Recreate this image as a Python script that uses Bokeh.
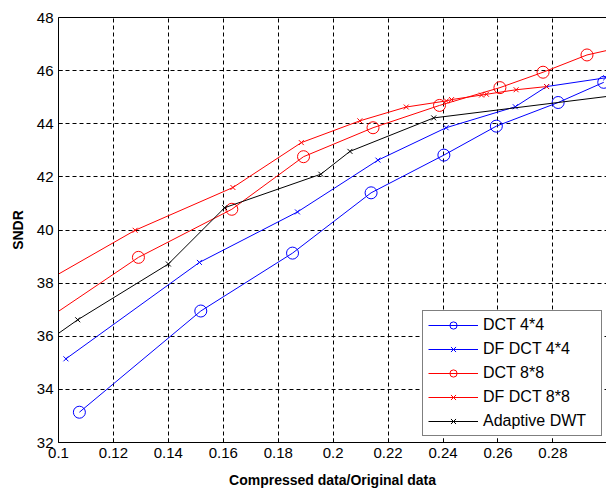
from bokeh.plotting import figure
from bokeh.models import Range1d, FixedTicker, PrintfTickFormatter, LinearAxis, Legend, LegendItem
from bokeh.embed import file_html
from bokeh.resources import INLINE

# ---- data ----
dct44_x = [0.1076, 0.1518, 0.1852, 0.2138, 0.2403, 0.2594, 0.2819, 0.2985]
dct44_y = [33.14, 36.95, 39.13, 41.40, 42.82, 43.91, 44.80, 45.56]

dfdct44_x = [0.1027, 0.1513, 0.1870, 0.2163, 0.2411, 0.2663, 0.2777, 0.2992]
dfdct44_y = [35.15, 38.78, 40.68, 42.63, 43.85, 44.64, 45.40, 45.73]

dct88_x = [0.09, 0.1291, 0.1631, 0.1892, 0.2145, 0.2387, 0.2607, 0.2764, 0.2924, 0.31]
dct88_y = [36.24, 38.97, 40.78, 42.76, 43.85, 44.69, 45.36, 45.94, 46.59, 47.00]

dfdct88_x = [0.09, 0.1279, 0.1635, 0.1884, 0.2097, 0.2266, 0.2412, 0.2431, 0.2540, 0.2558, 0.2666, 0.2777]
dfdct88_y = [37.75, 39.99, 41.60, 43.29, 44.11, 44.63, 44.86, 44.91, 45.08, 45.11, 45.28, 45.40]

dwt_x = [0.09, 0.1070, 0.1400, 0.1605, 0.1955, 0.2061, 0.2366, 0.31]
dwt_y = [35.38, 36.62, 38.72, 40.84, 42.10, 42.96, 44.22, 45.16]

x_ticks = [0.1, 0.12, 0.14, 0.16, 0.18, 0.2, 0.22, 0.24, 0.26, 0.28]
y_ticks = [32, 34, 36, 38, 40, 42, 44, 46, 48]

series = [
    ("DCT 4*4", dct44_x, dct44_y, "#0000FF", "circle"),
    ("DF DCT 4*4", dfdct44_x, dfdct44_y, "#0000FF", "x"),
    ("DCT 8*8", dct88_x, dct88_y, "#FF0000", "circle"),
    ("DF DCT 8*8", dfdct88_x, dfdct88_y, "#FF0000", "x"),
    ("Adaptive DWT", dwt_x, dwt_y, "#000000", "x"),
]

p = figure(width=606, height=494, output_backend="svg", toolbar_location=None,
           x_range=Range1d(0.1, 0.2995), y_range=Range1d(32, 48),
           min_border_left=58, min_border_right=0, min_border_top=17, min_border_bottom=52)
p.outline_line_color = None
p.background_fill_color = "white"
p.border_fill_color = "white"

for ax, ticks in ((p.xaxis[0], x_ticks), (p.yaxis[0], y_ticks)):
    ax.ticker = FixedTicker(ticks=ticks)
    ax.major_tick_in = 4
    ax.major_tick_out = 0
    ax.minor_tick_in = 0
    ax.minor_tick_out = 0
    ax.axis_line_color = "black"
    ax.major_tick_line_color = "black"
    ax.major_label_text_font = "Liberation Sans"
    ax.major_label_text_font_size = "15px"
    ax.major_label_text_color = "black"
    ax.major_label_standoff = 5
    ax.axis_label_text_font = "Liberation Sans"
    ax.axis_label_text_font_style = "bold"
    ax.axis_label_text_font_size = "14px"
    ax.axis_label_text_color = "black"

p.xaxis[0].formatter = PrintfTickFormatter(format="%g")
p.xaxis[0].axis_label = "Compressed data/Original data"
p.xaxis[0].axis_label_standoff = 11
p.yaxis[0].axis_label = "SNDR"
p.yaxis[0].axis_label_standoff = 8

top_axis = LinearAxis(ticker=FixedTicker(ticks=[]), axis_line_color="black",
                      major_label_text_font_size="0px", major_tick_in=0, major_tick_out=0,
                      minor_tick_in=0, minor_tick_out=0)
p.add_layout(top_axis, "above")

for g, ticks in ((p.xgrid[0], x_ticks), (p.ygrid[0], y_ticks)):
    g.ticker = FixedTicker(ticks=ticks)
    g.grid_line_color = "black"
    g.grid_line_dash = "4 3"
    g.grid_line_width = 1

items = []
for i, (name, xs, ys, color, marker) in enumerate(series):
    ln = p.line(xs, ys, line_color=color, line_width=1)
    if marker == "circle":
        sc = p.scatter(xs, ys, marker="circle", size=12, line_color=color, fill_color=None, line_width=1)
    else:
        sc = p.scatter(xs, ys, marker="x", size=7, line_color=color, line_width=1)
    items.append(LegendItem(label=name, renderers=[ln, sc]))

legend = Legend(items=items, location=(364, 6), border_line_color="black", border_line_width=1,
                background_fill_color="white", background_fill_alpha=1,
                label_text_font="Liberation Sans", label_text_font_size="16px",
                label_text_color="black", glyph_width=50, glyph_height=18,
                label_height=18, label_width=113, label_standoff=5, spacing=6, padding=5,
                margin=0)
p.add_layout(legend, "center")

open("out.html", "w").write(file_html(p, INLINE))
